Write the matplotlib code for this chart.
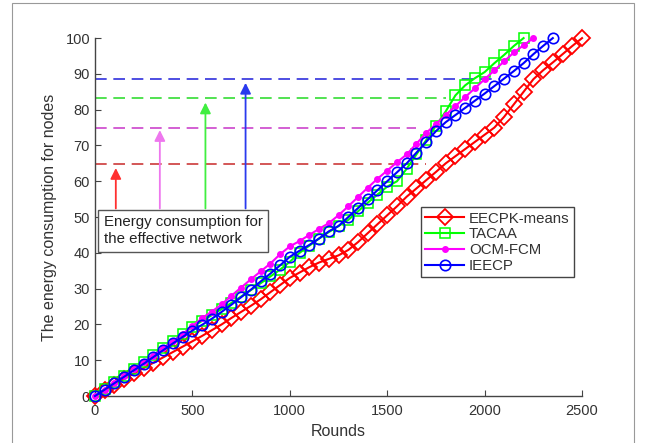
import matplotlib.pyplot as plt
import numpy as np
from matplotlib.patches import Rectangle

plt.rcParams['font.family'] = ['Liberation Sans', 'DejaVu Sans']

# rounds (every 50)
rounds = np.arange(0, 2501, 50)

# EECPK-means
eecpk = [0, 1.6, 3.2, 4.8, 6.3, 7.8, 9.3, 10.8, 12.3, 13.8, 15.3, 16.8, 18.4, 20, 21.8,
         23.5, 25.2, 27, 29, 31, 33, 34.5, 36, 37.3, 38.3, 39.3, 40.8, 43, 45.5, 48,
         50.5, 53, 55.7, 58, 60.3, 62.6, 65, 67, 69, 71, 73, 75, 78, 81.5, 85,
         88.5, 91, 93.2, 95.5, 97.8, 100]
# TACAA
tacaa = [0, 1.9, 3.8, 5.7, 7.6, 9.5, 11.5, 13.4, 15.3, 17.3, 19.3, 21, 22.6, 24.3, 26,
         27.8, 29.6, 31.5, 33.4, 35.3, 37.5, 40, 42, 44, 45.8, 47.5, 49.2, 51.6, 54, 56.3,
         58.5, 60, 63.5, 67.5, 71.5, 75.5, 79.5, 84, 86.8, 88.8, 90.5, 93, 95.3, 97.8, 100]
# OCM-FCM
ocm = [0, 1.8, 3.7, 5.6, 7.5, 9.4, 11.3, 13.3, 15.3, 17.3, 19.5, 21.8, 23.6, 25.6, 28,
       30.3, 32.6, 34.8, 37, 39.6, 41.8, 43.3, 45, 46.7, 48.3, 50.5, 53, 55.6, 58.2, 60.7,
       63, 65.3, 67.5, 70.5, 73.5, 76, 78.5, 81, 83.5, 86, 88.5, 91, 93.5, 96, 98, 100]
# IEECP
ieecp = [0, 1.8, 3.6, 5.4, 7.2, 9, 10.9, 12.8, 14.7, 16.5, 18.3, 19.9, 21.6, 23.5, 25.5,
         27.6, 29.7, 32, 34.2, 36.5, 38.9, 40.6, 42.2, 44, 46, 47.5, 50, 52.5, 55, 57.5,
         60, 62.5, 65, 68, 71, 74, 76.5, 78.5, 80.5, 82.5, 84.5, 86.6, 88.7, 90.8, 93,
         95.5, 97.8, 100]

# effective network levels (dashed) and arrows
levels = [64.8, 74.8, 83.3, 88.6]
level_end = [1700, 1650, 1800, 2080]
arrow_x = [107, 333, 567, 773]
arrow_tip = [63.7, 74.3, 82, 87.5]
dash_cols = ['#cc3a3a', '#cc44cc', '#33dd33', '#3030dd']
arrow_cols = ['#ff3030', '#ee77ee', '#40ee40', '#2a3aee']

fig = plt.figure(figsize=(6.46, 4.43), dpi=100)
ax = fig.add_axes([0.147, 0.106, 0.754, 0.808])

# frame round the picture
fig.patches.append(Rectangle((12 / 646, -0.05), 622 / 646, 1.043, transform=fig.transFigure,
                             fill=False, edgecolor='#999999', linewidth=0.8))

for lv, le, c in zip(levels, level_end, dash_cols):
    ax.plot([0, le], [lv, lv], color=c, linestyle=(0, (7, 4)), linewidth=1.2, zorder=1)

for xa, tip, c in zip(arrow_x, arrow_tip, arrow_cols):
    ax.annotate('', xy=(xa, tip), xytext=(xa, 52.4),
                arrowprops=dict(arrowstyle='-|>', color=c, lw=1.3, mutation_scale=16,
                                shrinkA=0, shrinkB=0), zorder=2)

ax.plot(rounds[:len(eecpk)], eecpk, color='#ff0000', marker='D', markersize=8,
        markerfacecolor='none', markeredgewidth=1.3, linewidth=1.5, label='EECPK-means',
        clip_on=False, zorder=3)
ax.plot(rounds[:len(tacaa)], tacaa, color='#00ff00', marker='s', markersize=7,
        markerfacecolor='none', markeredgewidth=1.1, linewidth=1.5, label='TACAA',
        clip_on=False, zorder=4)
ax.plot(rounds[:len(ocm)], ocm, color='#ff00ff', marker='o', markersize=4,
        linewidth=1.5, label='OCM-FCM', clip_on=False, zorder=5)
ax.plot(rounds[:len(ieecp)], ieecp, color='#0000ff', marker='o', markersize=7.5,
        markerfacecolor='none', markeredgewidth=1.2, linewidth=1.5, label='IEECP',
        clip_on=False, zorder=6)

ax.set_xlim(0, 2500)
ax.set_ylim(0, 100)
ax.set_xticks(np.arange(0, 2501, 500))
ax.set_yticks(np.arange(0, 101, 10))
for s in ['top', 'right']:
    ax.spines[s].set_visible(False)
for s in ['left', 'bottom']:
    ax.spines[s].set_color('#444444')
    ax.spines[s].set_linewidth(1.0)
ax.tick_params(direction='in', length=4, colors='#444444', labelsize=10.5,
               labelcolor='#333333')
ax.tick_params(axis='x', pad=6)

ax.set_xlabel('Rounds', fontsize=11.5, color='#333333', labelpad=4)
ax.set_ylabel('The energy consumption for nodes', fontsize=11.5, color='#333333',
              labelpad=6)

ax.text(45, 46.2, 'Energy consumption for\nthe effective network', fontsize=10.8,
        color='#222222', va='center', ha='left', linespacing=1.3, zorder=7,
        bbox=dict(boxstyle='square,pad=0.35', facecolor='white', edgecolor='#555555',
                  linewidth=1.0))

leg = ax.legend(loc='upper left', bbox_to_anchor=(0.669, 0.528), borderaxespad=0,
                fontsize=10.8, handlelength=2.6, borderpad=0.3, labelspacing=0.12,
                handletextpad=0.3, fancybox=False, edgecolor='#444444', framealpha=1)
leg.get_frame().set_linewidth(1.0)
for t in leg.get_texts():
    t.set_color('#333333')

fig.savefig('out.png', dpi=100)
